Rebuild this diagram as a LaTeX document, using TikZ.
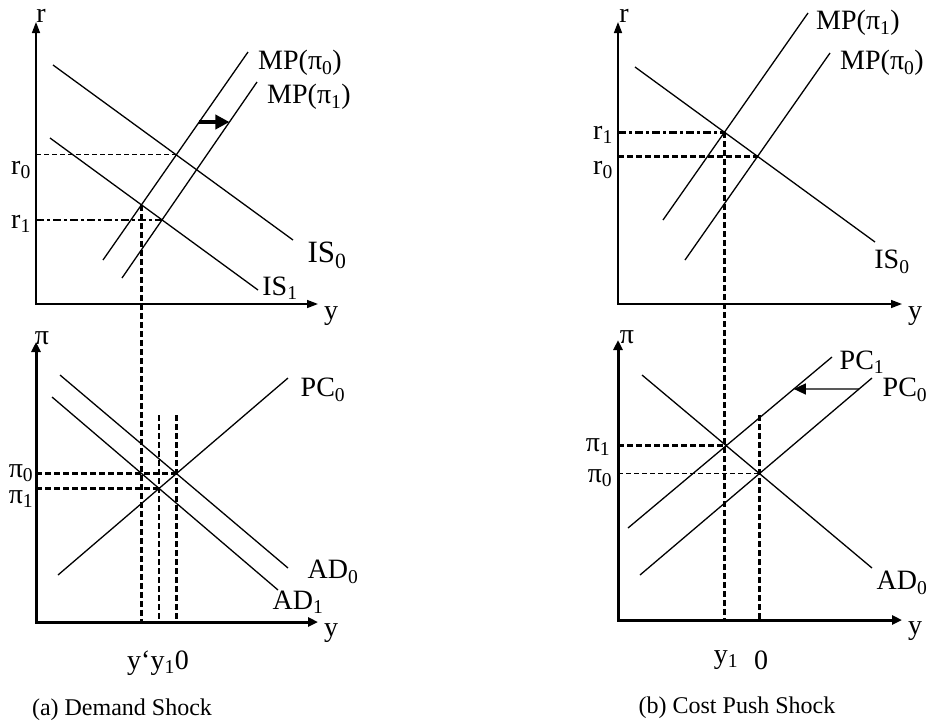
\documentclass[tikz,border=0pt]{standalone}
\usepackage{fontspec}
\setmainfont{Liberation Serif}
\usetikzlibrary{arrows.meta,positioning,calc}
\newcommand{\lo}[1]{\textsubscript{#1}}

\begin{document}
\begin{tikzpicture}[x=1pt, y=-1pt, every node/.style={font=\fontsize{28}{30}\selectfont, inner sep=0pt}, caption/.style={font=\fontsize{24}{26}\selectfont}, axis/.style={line width=1.5pt, {Triangle[length=11pt,width=8pt]}-{Triangle[length=11pt,width=8pt]}}, axisb/.style={line width=3pt, {Triangle[length=10pt,width=9pt]}-{Triangle[length=10pt,width=9pt]}}, curve/.style={line width=1.3pt}, guide/.style={line width=2.8pt, dash pattern=on 6pt off 3pt}, guidethin/.style={line width=1.1pt, dash pattern=on 5pt off 3pt}, guidedot/.style={line width=2.6pt, dash pattern=on 8pt off 3pt on 3pt off 3pt}, shiftarr/.style={line width=1.3pt, -{Triangle[length=12pt,width=11pt]}}, bigshiftarr/.style={line width=4.5pt, -{Triangle[length=14pt,width=14pt]}}]
\useasboundingbox (0,0) rectangle (930,726);
\coordinate (topB) at (0,415);

\coordinate (oA) at (36,304);
\coordinate (rA) at (36,22);
\coordinate (yA) at (318,304);
\coordinate (is0a) at (53,65);
\coordinate (is0b) at (293,240);
\coordinate (is1a) at (50,138);
\coordinate (is1b) at (258,290);
\coordinate (mp0a) at (103,260);
\coordinate (mp0b) at (248,52);
\coordinate (mp1a) at (122,278);
\coordinate (mp1b) at (257,82);
\coordinate (eA0) at (intersection of is0a--is0b and mp0a--mp0b);
\coordinate (eA1) at (intersection of is1a--is1b and mp1a--mp1b);
\coordinate (eA2) at (intersection of is1a--is1b and mp0a--mp0b);
\coordinate (mvA) at (intersection of mp0a--mp0b and 0,122--400,122);
\coordinate (mvB) at (intersection of mp1a--mp1b and 0,122--400,122);
\coordinate (oB) at (36,622);
\coordinate (piB) at (36,342);
\coordinate (yB) at (318,622);
\coordinate (ad0a) at (60,375);
\coordinate (ad0b) at (288,568);
\coordinate (ad1a) at (52,397);
\coordinate (ad1b) at (278,590);
\coordinate (pc0a) at (58,575);
\coordinate (pc0b) at (288,378);
\coordinate (eB0) at (intersection of ad0a--ad0b and pc0a--pc0b);
\coordinate (eB1) at (intersection of ad1a--ad1b and pc0a--pc0b);

\draw[axis] (rA) -- (oA) -- (yA);
\draw[curve] (is0a) -- (is0b);
\draw[curve] (is1a) -- (is1b);
\draw[curve] (mp0a) -- (mp0b);
\draw[curve] (mp1a) -- (mp1b);
\draw[bigshiftarr] (mvA) -- (mvB);
\draw[guidethin] (oA |- eA0) -- (eA0);
\draw[guidedot] (oA |- eA1) -- (eA1);
\draw[guide] (eA2) -- (eA2 |- oB);
\draw[axisb] (piB) -- (oB) -- (yB);
\draw[curve] (ad0a) -- (ad0b);
\draw[curve] (ad1a) -- (ad1b);
\draw[curve] (pc0a) -- (pc0b);
\draw[guide] (oB |- eB0) -- (eB0);
\draw[guide] (oB |- eB1) -- (eB1);
\draw[guide] (eB1 |- topB) -- (eB1 |- oB);
\draw[guide] (eB0 |- topB) -- (eB0 |- oB);

\node (rlabA) at (41,16) {r};
\node (ylabA) at (331,316) {y};
\node (is0lab) at (327,255) {\fontsize{31}{33}\selectfont IS\lo{0}};
\node (is1lab) at (280,288) {IS\lo{1}};
\node (mp0lab) at (300,63) {MP(π\lo{0})};
\node (mp1lab) at (309,97) {MP(π\lo{1})};
\node (r0lab) at (21,170) {r\lo{0}};
\node (r1lab) at (21,224) {r\lo{1}};
\node (pilabB) at (42,338) {π};
\node (ylabB) at (331,633) {y};
\node (pc0lab) at (323,390) {PC\lo{0}};
\node (ad0lab) at (333,572) {AD\lo{0}};
\node (ad1lab) at (298,602) {AD\lo{1}};
\node (pi0lab) at (21,473) {π\lo{0}};
\node (pi1lab) at (21,499) {π\lo{1}};
\node (ticksB) at (158,663) {y‘y\lo{1}0};
\node[caption] (capA) at (122,710) {(a) Demand Shock};

\coordinate (oC) at (618,304);
\coordinate (rC) at (618,22);
\coordinate (yC) at (902,304);
\coordinate (isCa) at (635,67);
\coordinate (isCb) at (875,242);
\coordinate (mpC1a) at (663,220);
\coordinate (mpC1b) at (808,13);
\coordinate (mpC0a) at (685,260);
\coordinate (mpC0b) at (830,53);
\coordinate (eC1) at (intersection of isCa--isCb and mpC1a--mpC1b);
\coordinate (eC0) at (intersection of isCa--isCb and mpC0a--mpC0b);
\coordinate (oD) at (618,620);
\coordinate (piD) at (618,340);
\coordinate (yD) at (902,620);
\coordinate (adDa) at (642,375);
\coordinate (adDb) at (872,568);
\coordinate (pcD1a) at (628,528);
\coordinate (pcD1b) at (832,357);
\coordinate (pcD0a) at (640,575);
\coordinate (pcD0b) at (872,378);
\coordinate (eD1) at (intersection of adDa--adDb and pcD1a--pcD1b);
\coordinate (eD0) at (intersection of adDa--adDb and pcD0a--pcD0b);
\coordinate (mvC) at (intersection of pcD0a--pcD0b and 600,389--930,389);
\coordinate (mvD) at (intersection of pcD1a--pcD1b and 600,389--930,389);

\draw[axis] (rC) -- (oC) -- (yC);
\draw[curve] (isCa) -- (isCb);
\draw[curve] (mpC1a) -- (mpC1b);
\draw[curve] (mpC0a) -- (mpC0b);
\draw[guidedot] (oC |- eC1) -- (eC1);
\draw[guide] (oC |- eC0) -- (eC0);
\draw[guide] (eC1) -- (eC1 |- oD);
\draw[axisb] (piD) -- (oD) -- (yD);
\draw[curve] (adDa) -- (adDb);
\draw[curve] (pcD1a) -- (pcD1b);
\draw[curve] (pcD0a) -- (pcD0b);
\draw[shiftarr] (mvC) -- (mvD);
\draw[guide] (oD |- eD1) -- (eD1);
\draw[guidethin] (oD |- eD0) -- (eD0);
\draw[guide] (eD0 |- topB) -- (eD0 |- oD);

\node (rlabC) at (624,16) {r};
\node (ylabC) at (915,316) {y};
\node (mpC1lab) at (858,23) {MP(π\lo{1})};
\node (mpC0lab) at (882,63) {MP(π\lo{0})};
\node (isClab) at (892,262) {IS\lo{0}};
\node (r1labC) at (603,135) {r\lo{1}};
\node (r0labC) at (603,170) {r\lo{0}};
\node (pilabD) at (627,337) {π};
\node (ylabD) at (915,631) {y};
\node (pcD1lab) at (862,362) {PC\lo{1}};
\node (pcD0lab) at (905,390) {PC\lo{0}};
\node (adDlab) at (902,583) {AD\lo{0}};
\node (pi1labD) at (598,447) {π\lo{1}};
\node (pi0labD) at (600,478) {π\lo{0}};
\node (y1labD) at (726,660) {y\lo{1}};
\node (zlabD) at (761,660) {0};
\node[caption] (capB) at (737,708) {(b) Cost Push Shock};
\end{tikzpicture}
\end{document}
